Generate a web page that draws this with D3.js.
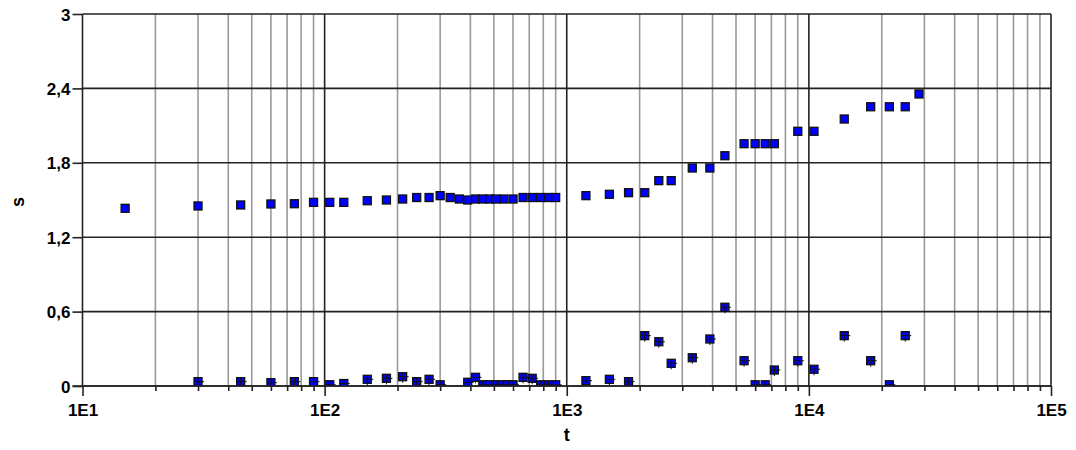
<!DOCTYPE html>
<html>
<head>
<meta charset="utf-8">
<script src="https://cdn.jsdelivr.net/npm/d3@7"></script>
<style>
  body { margin: 0; background: #fff; }
  text { font-family: "Liberation Sans", Arial, sans-serif; font-weight: bold; }
</style>
</head>
<body>
<svg id="chart" width="1076" height="450"></svg>
<script>
// upper series (s vs t)
let tUpper = [15, 30, 45, 60, 75, 90, 105, 120, 150, 180, 210, 240, 270, 300, 330, 360, 390, 420, 450, 480, 510, 550, 600, 660, 720, 780, 840, 900,
  1200, 1500, 1800, 2100, 2400, 2700, 3300, 3900, 4500, 5400, 6000, 6600, 7200, 9000, 10500, 14000, 18000, 21500, 25000, 28500];
let sUpper = [1.433, 1.452, 1.46, 1.468, 1.47, 1.481, 1.481, 1.481, 1.494, 1.5, 1.508, 1.52, 1.52, 1.535, 1.52, 1.508, 1.5, 1.508, 1.508, 1.508, 1.508, 1.508, 1.508, 1.52, 1.52, 1.52, 1.52, 1.52,
  1.535, 1.546, 1.559, 1.559, 1.656, 1.656, 1.758, 1.758, 1.857, 1.954, 1.954, 1.954, 1.954, 2.054, 2.054, 2.153, 2.252, 2.252, 2.252, 2.355];

// lower series
let tLower = [30, 45, 60, 75, 90, 105, 120, 150, 180, 210, 240, 270, 300, 390, 420, 450, 480, 510, 540, 570, 600, 660, 720, 780, 840, 900,
  1200, 1500, 1800, 2100, 2400, 2700, 3300, 3900, 4500, 5400, 6000, 6600, 7200, 9000, 10500, 14000, 18000, 21500, 25000];
let sLower = [0.035, 0.035, 0.027, 0.035, 0.035, 0.01, 0.02, 0.054, 0.062, 0.075, 0.035, 0.054, 0.01, 0.03, 0.07, 0.01, 0.01, 0.01, 0.01, 0.01, 0.01, 0.07, 0.062, 0.01, 0.01, 0.01,
  0.043, 0.054, 0.035, 0.406, 0.357, 0.183, 0.228, 0.379, 0.635, 0.204, 0.01, 0.01, 0.129, 0.204, 0.135, 0.406, 0.204, 0.01, 0.406];

let xMajor = [10, 100, 1000, 10000, 100000];
let xMajorLabels = ['1E1', '1E2', '1E3', '1E4', '1E5'];
let yTicks = [0, 0.6, 1.2, 1.8, 2.4, 3];
let yTickLabels = ['0', '0,6', '1,2', '1,8', '2,4', '3'];

let plotLeft = 82.5, plotRight = 1051, plotTop = 14, plotBottom = 386;

let svg = d3.select('#chart');
let x = d3.scaleLog().domain([10, 100000]).range([plotLeft, plotRight]);
let y = d3.scaleLinear().domain([0, 3]).range([plotBottom, plotTop]);

let xMinor = [];
xMajor.slice(0, -1).forEach(d => {
  for (let k = 2; k <= 9; k++) xMinor.push(d * k);
});

// minor vertical grid
svg.append('g').selectAll('line').data(xMinor).enter().append('line').
  attr('x1', d => x(d)).attr('x2', d => x(d)).
  attr('y1', plotTop).attr('y2', plotBottom).
  attr('stroke', '#9a9a9a').attr('stroke-width', 1.6);

// major vertical grid
svg.append('g').selectAll('line').data(xMajor).enter().append('line').
  attr('x1', d => x(d)).attr('x2', d => x(d)).
  attr('y1', plotTop).attr('y2', plotBottom).
  attr('stroke', '#222').attr('stroke-width', 1.6);

// horizontal grid
svg.append('g').selectAll('line').data(yTicks).enter().append('line').
  attr('x1', plotLeft).attr('x2', plotRight).
  attr('y1', d => y(d)).attr('y2', d => y(d)).
  attr('stroke', '#222').attr('stroke-width', 1.6);

// x axis ticks
svg.append('g').attr('transform', `translate(0,${plotBottom})`).
  call(d3.axisBottom(x).tickValues(xMinor).tickSize(5).tickFormat('')).
  call(g => g.select('.domain').remove()).
  selectAll('line').attr('stroke', '#222').attr('stroke-width', 1.6);

svg.append('g').attr('transform', `translate(0,${plotBottom})`).
  call(d3.axisBottom(x).tickValues(xMajor).tickSize(10).tickFormat((d, i) => xMajorLabels[i])).
  call(g => g.select('.domain').remove()).
  call(g => g.selectAll('line').attr('stroke', '#222').attr('stroke-width', 1.6)).
  call(g => g.selectAll('text').attr('y', 18).attr('dy', '0.71em').
    style('font-size', '17px').style('font-family', '"Liberation Sans", Arial, sans-serif').
    style('font-weight', 'bold').attr('fill', '#000'));

// y axis ticks
svg.append('g').attr('transform', `translate(${plotLeft},0)`).
  call(d3.axisLeft(y).tickValues(yTicks).tickSize(10).tickFormat((d, i) => yTickLabels[i])).
  call(g => g.select('.domain').remove()).
  call(g => g.selectAll('line').attr('stroke', '#222').attr('stroke-width', 1.6)).
  call(g => g.selectAll('text').attr('x', -12).attr('dy', '0.36em').
    style('font-size', '17px').style('font-family', '"Liberation Sans", Arial, sans-serif').
    style('font-weight', 'bold').attr('fill', '#000'));

// axis titles
svg.append('text').attr('x', (plotLeft + plotRight) / 2).attr('y', 441).
  attr('text-anchor', 'middle').style('font-size', '18px').text('t');
svg.append('text').attr('transform', 'translate(24,202) rotate(-90)').
  attr('text-anchor', 'middle').style('font-size', '18px').text('s');

// clip markers to plot area
svg.append('clipPath').attr('id', 'plot').append('rect').
  attr('x', plotLeft).attr('y', plotTop).attr('width', plotRight - plotLeft).attr('height', plotBottom - plotTop);

let marks = svg.append('g').attr('clip-path', 'url(#plot)');
let sz = 8;

let upper = tUpper.map((t, i) => ({ t: t, s: sUpper[i] }));
let lower = tLower.map((t, i) => ({ t: t, s: sLower[i] }));

marks.append('g').selectAll('rect').data(upper).enter().append('rect').
  attr('x', d => x(d.t) - sz / 2).attr('y', d => y(d.s) - sz / 2).
  attr('width', sz).attr('height', sz).
  attr('fill', '#0000ff').attr('stroke', '#111').attr('stroke-width', 1.3);

let lowG = marks.append('g').selectAll('g').data(lower).enter().append('g').
  attr('transform', d => `translate(${x(d.t)},${y(d.s)})`);
lowG.append('rect').attr('x', -sz / 2).attr('y', -sz / 2).
  attr('width', sz).attr('height', sz).
  attr('fill', '#0000ff').attr('stroke', '#111').attr('stroke-width', 1.3);
lowG.append('line').attr('x1', -sz / 2).attr('x2', sz / 2 + 2).attr('y1', 0).attr('y2', 0).
  attr('stroke', '#111').attr('stroke-width', 1);
lowG.append('line').attr('x1', 0).attr('x2', 0).attr('y1', -sz / 2).attr('y2', sz / 2 + 2).
  attr('stroke', '#111').attr('stroke-width', 1);

// bottom axis line
svg.append('line').attr('x1', plotLeft - 10).attr('x2', plotRight).attr('y1', plotBottom).attr('y2', plotBottom).
  attr('stroke', '#222').attr('stroke-width', 1.6);
</script>
</body>
</html>
